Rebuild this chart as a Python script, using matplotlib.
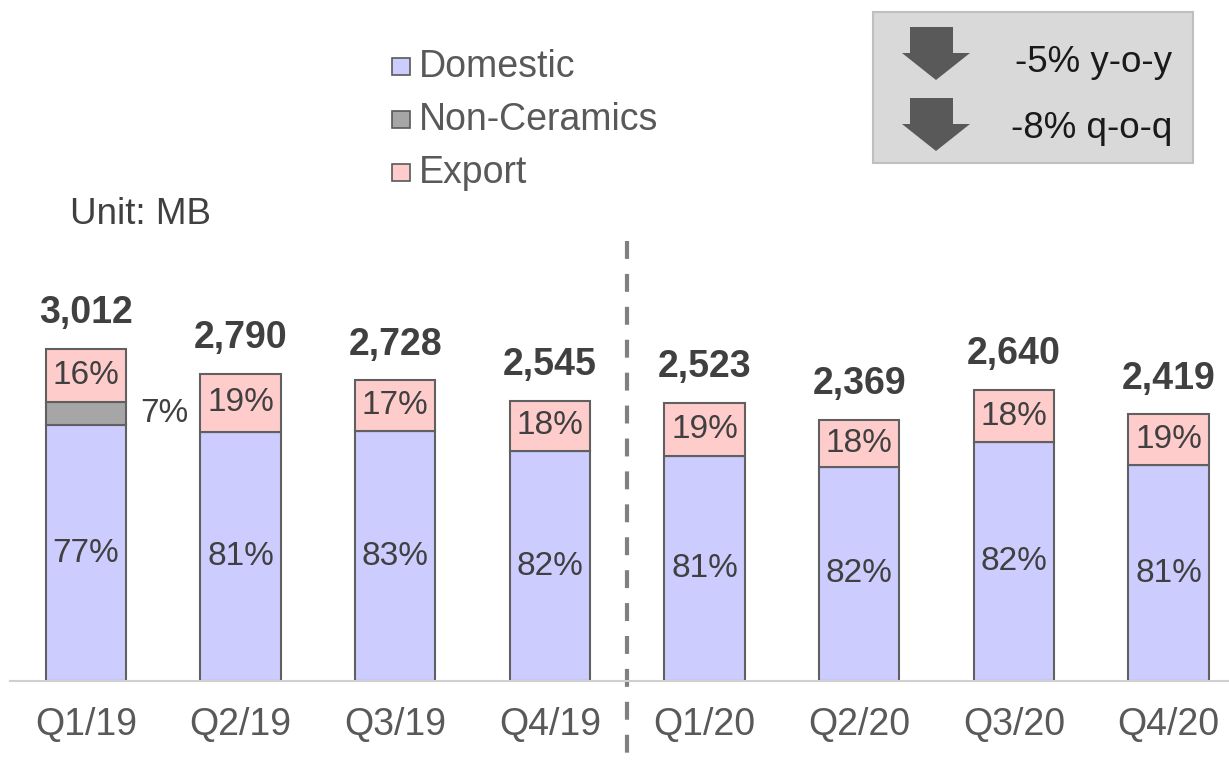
import matplotlib.pyplot as plt
import numpy as np
from matplotlib.patches import Rectangle, Polygon

plt.rcParams['font.family'] = ['Liberation Sans', 'DejaVu Sans']

quarters = ["Q1/19", "Q2/19", "Q3/19", "Q4/19", "Q1/20", "Q2/20", "Q3/20", "Q4/20"]
totals = [3012, 2790, 2728, 2545, 2523, 2369, 2640, 2419]
domestic_pct = [77, 81, 83, 82, 81, 82, 82, 81]
nonceramic_pct = [7, 0, 0, 0, 0, 0, 0, 0]
export_pct = [16, 19, 17, 18, 19, 18, 18, 19]

W, H = 1229, 762
fig = plt.figure(figsize=(W / 100, H / 100), dpi=100)

def fx(px):
    return px / W

def fy(py):
    return 1 - py / H

# axes: baseline at y=681px, scale ~0.1102 px per MB
ax = fig.add_axes([fx(10), fy(681), 1 - fx(10), fy(0) - fy(681)])
ax.set_xlim(-0.49, 7.39)
ax.set_ylim(0, 681 / 0.1102)

tot = np.array(totals, dtype=float)
dom = tot * np.array(domestic_pct) / 100
non = tot * np.array(nonceramic_pct) / 100
exp_ = tot - dom - non

x = np.arange(len(quarters))
edge = "#606060"
bw = 0.52
ax.bar(x, dom, bw, color="#CCCCFF", edgecolor=edge, linewidth=1.5, zorder=2)
ax.bar(x, non, bw, bottom=dom, color="#A6A6A6", edgecolor=edge, linewidth=1.5, zorder=2)
ax.bar(x, exp_, bw, bottom=dom + non, color="#FFCCCC", edgecolor=edge, linewidth=1.5, zorder=2)

lab = "#404040"
for i in range(len(x)):
    ax.text(x[i], dom[i] / 2, f"{domestic_pct[i]}%", ha="center", va="center",
            fontsize=24, color=lab, zorder=3)
    ax.text(x[i], dom[i] + non[i] + exp_[i] / 2, f"{export_pct[i]}%", ha="center",
            va="center", fontsize=24, color=lab, zorder=3)
    if nonceramic_pct[i] > 0:
        ax.text(x[i] + 0.51, dom[i] + non[i] / 2, f"{nonceramic_pct[i]}%", ha="center",
                va="center", fontsize=24, color=lab, zorder=3)
    ax.annotate(f"{totals[i]:,}", (x[i], tot[i]), xytext=(0, 18.5), textcoords="offset points",
                ha="center", va="baseline", fontsize=27, fontweight="bold", color=lab)

for s in ["top", "right", "left"]:
    ax.spines[s].set_visible(False)
ax.spines["bottom"].set_color("#D0D0D0")
ax.spines["bottom"].set_linewidth(1.5)
ax.set_yticks([])
ax.set_xticks(x)
ax.set_xticklabels(quarters, fontsize=27, color="#595959")
ax.tick_params(axis="x", length=0, pad=19)

# divider between years
ax.plot([3.5, 3.5], [(681 - 241) / 0.1102, -81 / 0.1102], color="#808080", lw=3,
        linestyle=(0, (4.3, 3.6)), solid_capstyle="butt", clip_on=False, zorder=1)

# legend
leg_items = [("Domestic", "#CCCCFF", 67), ("Non-Ceramics", "#A6A6A6", 120), ("Export", "#FFCCCC", 173)]
for name, col, yy in leg_items:
    fig.patches.append(Rectangle((fx(392), fy(yy + 8)), fx(18), fy(0) - fy(17),
                                 facecolor=col, edgecolor="#595959", linewidth=1.2,
                                 transform=fig.transFigure))
    fig.text(fx(419), fy(yy), name, fontsize=27, color="#595959", va="center", ha="left")

fig.text(fx(70), fy(214), "Unit: MB", fontsize=26.5, color="#404040", va="center", ha="left")

# change box
fig.patches.append(Rectangle((fx(873), fy(163)), fx(1193) - fx(873), fy(12) - fy(163),
                             facecolor="#D9D9D9", edgecolor="#BFBFBF", linewidth=1.5,
                             transform=fig.transFigure))
for top in [27, 98]:
    pts = [(910, top), (953, top), (953, top + 26), (970, top + 26), (936, top + 53),
           (902, top + 26), (910, top + 26)]
    fig.patches.append(Polygon([(fx(a), fy(b)) for a, b in pts], closed=True,
                               facecolor="#595959", edgecolor="none", transform=fig.transFigure))
fig.text(fx(1172), fy(63), "-5% y-o-y", fontsize=26.5, color="#1A1A1A", ha="right", va="center")
fig.text(fx(1172), fy(128), "-8% q-o-q", fontsize=26.5, color="#1A1A1A", ha="right", va="center")

fig.savefig("out.png", dpi=100)
